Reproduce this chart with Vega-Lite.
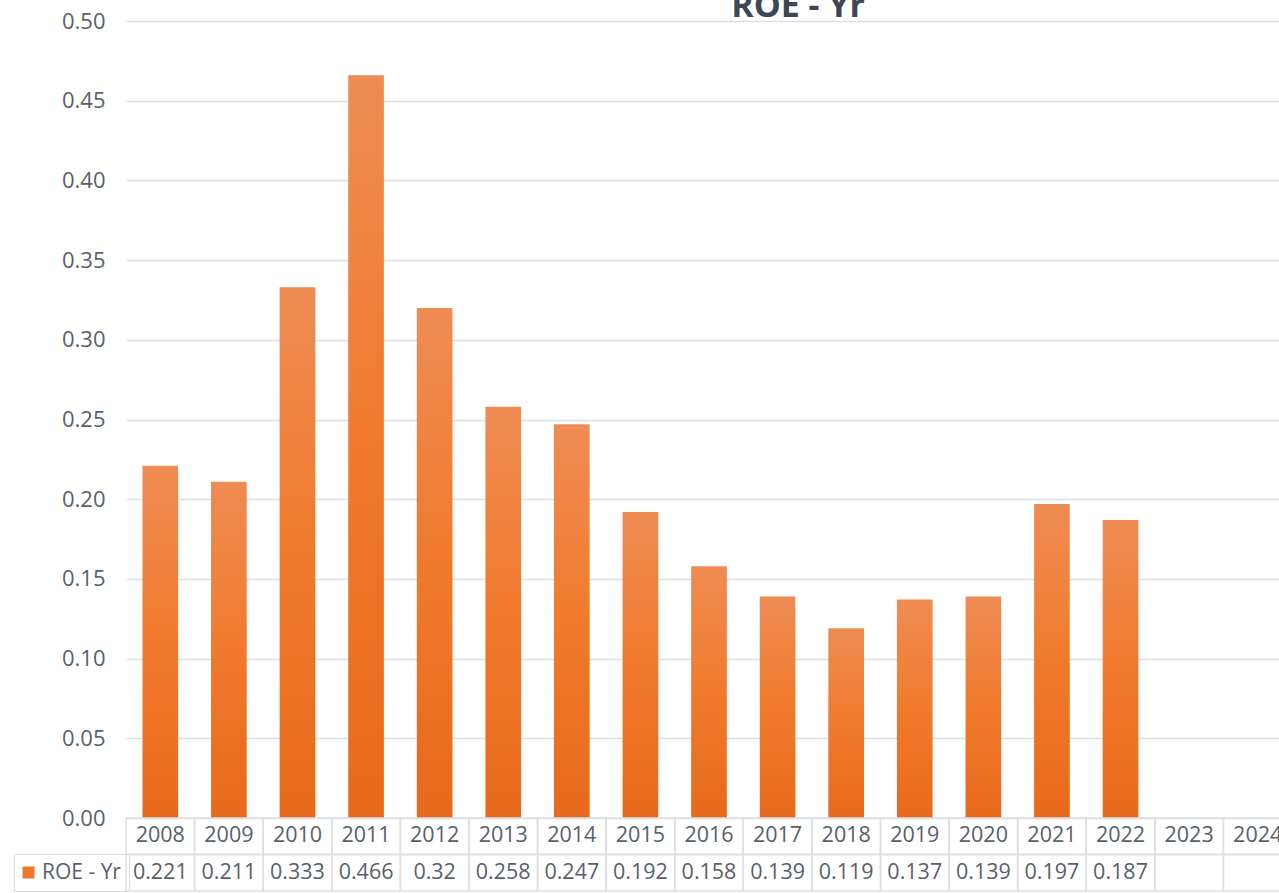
{
  "$schema": "https://vega.github.io/schema/vega-lite/v6.json",
  "autosize": {"type": "pad"},
  "padding": {"left": 13, "top": -10, "right": 0, "bottom": 0},
  "background": "white",
  "bounds": "flush",
  "spacing": 0,
  "title": {
    "text": "ROE - Yr",
    "font": "Open Sans",
    "fontSize": 34,
    "fontWeight": "bold",
    "color": "#3d4656",
    "anchor": "middle",
    "dx": 145,
    "baseline": "alphabetic",
    "offset": 0,
    "dy": 41
  },
  "datasets": {
    "roe": [
      {"year": "2008", "roe": 0.221},
      {"year": "2009", "roe": 0.211},
      {"year": "2010", "roe": 0.333},
      {"year": "2011", "roe": 0.466},
      {"year": "2012", "roe": 0.32},
      {"year": "2013", "roe": 0.258},
      {"year": "2014", "roe": 0.247},
      {"year": "2015", "roe": 0.192},
      {"year": "2016", "roe": 0.158},
      {"year": "2017", "roe": 0.139},
      {"year": "2018", "roe": 0.119},
      {"year": "2019", "roe": 0.137},
      {"year": "2020", "roe": 0.139},
      {"year": "2021", "roe": 0.197},
      {"year": "2022", "roe": 0.187},
      {"year": "2023", "roe": null},
      {"year": "2024", "roe": null}
    ]
  },
  "resolve": {"scale": {"x": "independent", "y": "independent", "color": "independent"}, "legend": {"color": "independent"}},
  "vconcat": [
    {
      "width": 1166,
      "height": 797,
      "data": {"name": "roe"},
      "mark": {
        "type": "bar",
        "color": {
          "gradient": "linear",
          "x1": 0, "y1": 0, "x2": 0, "y2": 1,
          "stops": [
            {"offset": 0, "color": "#EF8C54"},
            {"offset": 0.5, "color": "#F07A2C"},
            {"offset": 1, "color": "#E8691C"}
          ]
        }
      },
      "encoding": {
        "x": {
          "field": "year",
          "type": "ordinal",
          "scale": {
            "domain": ["2008", "2009", "2010", "2011", "2012", "2013", "2014", "2015", "2016", "2017", "2018", "2019", "2020", "2021", "2022", "2023", "2024"],
            "paddingInner": 0.48,
            "paddingOuter": 0.24
          },
          "axis": null
        },
        "y": {
          "field": "roe",
          "type": "quantitative",
          "scale": {"domain": [0, 0.5], "nice": false, "zero": true},
          "axis": {
            "values": [0, 0.05, 0.1, 0.15, 0.2, 0.25, 0.3, 0.35, 0.4, 0.45, 0.5],
            "format": ".2f",
            "grid": true,
            "gridColor": "#dcdfe4",
            "gridWidth": 1.5,
            "domain": false,
            "ticks": false,
            "labelPadding": 21,
            "labelFont": "Open Sans",
            "labelFontSize": 22,
            "labelColor": "#595f6b",
            "title": null
          }
        }
      }
    },
    {
      "width": 1166,
      "height": 73,
      "data": {"name": "roe"},
      "encoding": {
        "x": {
          "field": "year",
          "type": "ordinal",
          "scale": {
            "domain": ["2008", "2009", "2010", "2011", "2012", "2013", "2014", "2015", "2016", "2017", "2018", "2019", "2020", "2021", "2022", "2023", "2024"],
            "paddingInner": 0,
            "paddingOuter": 0
          },
          "axis": null
        }
      },
      "layer": [
        {
          "mark": {"type": "rect", "fill": null, "fillOpacity": 0, "stroke": "#dcdfe4", "strokeWidth": 1.5},
          "encoding": {
            "y": {"datum": "year", "type": "nominal", "scale": {"domain": ["year", "value"], "paddingInner": 0, "paddingOuter": 0}, "axis": null}
          }
        },
        {
          "mark": {"type": "rect", "fill": null, "fillOpacity": 0, "stroke": "#dcdfe4", "strokeWidth": 1.5},
          "encoding": {
            "y": {"datum": "value", "type": "nominal"}
          }
        },
        {
          "mark": {"type": "text", "font": "Open Sans", "fontSize": 21.5, "color": "#595f6b", "baseline": "middle"},
          "encoding": {
            "y": {"datum": "year", "type": "nominal"},
            "text": {"field": "year", "type": "nominal"}
          }
        },
        {
          "transform": [{"filter": "datum.roe != null"}],
          "mark": {"type": "text", "font": "Open Sans", "fontSize": 21.5, "color": "#595f6b", "baseline": "middle"},
          "encoding": {
            "y": {"datum": "value", "type": "nominal"},
            "text": {"field": "roe", "type": "nominal"}
          }
        },
        {
          "transform": [{"filter": "datum.roe != null"}],
          "mark": {"type": "square", "opacity": 0, "filled": true},
          "encoding": {
            "y": {"datum": "value", "type": "nominal"},
            "color": {
              "datum": "ROE - Yr",
              "type": "nominal",
              "scale": {"range": ["#EC7A2E"]},
              "legend": {
                "orient": "none",
                "legendX": -112,
                "legendY": 36,
                "title": null,
                "symbolType": "square",
                "symbolSize": 144,
                "symbolOpacity": 1,
                "symbolStrokeWidth": 0,
                "symbolOffset": -4,
                "labelFont": "Open Sans",
                "labelFontSize": 21,
                "labelColor": "#595f6b",
                "labelOffset": 3,
                "padding": 8,
                "strokeColor": "#dcdfe4"
              }
            }
          }
        }
      ]
    }
  ],
  "config": {"view": {"stroke": null}}
}
